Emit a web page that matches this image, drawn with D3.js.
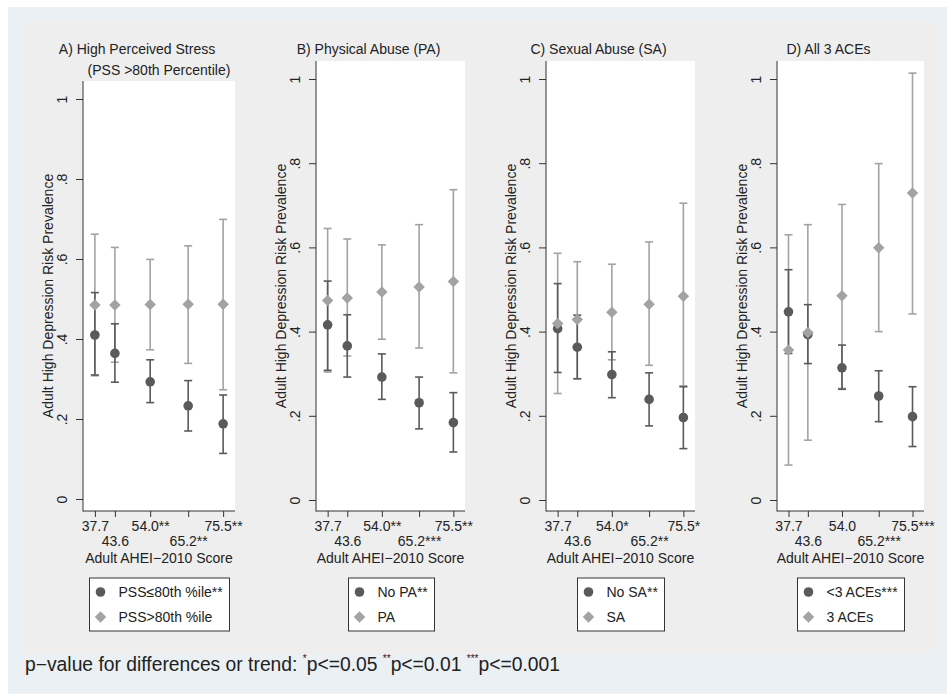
<!DOCTYPE html>
<html>
<head>
<meta charset="utf-8">
<script src="https://cdn.jsdelivr.net/npm/d3@7"></script>
<style>
  body { margin: 0; background: #fff; }
  text { font-family: 'Liberation Sans', Arial, sans-serif; fill: #222; }
</style>
</head>
<body>
<svg id="chart" width="947" height="694"></svg>
<script>
// AHEI-2010 quintile medians (x positions)
const scores = [37.7, 43.6, 54.0, 65.2, 75.5]
const yTicks = [0, 0.2, 0.4, 0.6, 0.8, 1]

// tick labels with significance stars, per panel
const ticksA = ['37.7', '43.6', '54.0**', '65.2**', '75.5**']
const ticksB = ['37.7', '43.6', '54.0**', '65.2***', '75.5**']
const ticksC = ['37.7', '43.6', '54.0*', '65.2**', '75.5*']
const ticksD = ['37.7', '43.6', '54.0', '65.2***', '75.5***']

// A) perceived stress
const aDarkEst = [0.410, 0.364, 0.293, 0.233, 0.188]
const aDarkLo = [0.310, 0.292, 0.241, 0.170, 0.114]
const aDarkHi = [0.516, 0.438, 0.348, 0.296, 0.260]
const aGrayEst = [0.485, 0.485, 0.486, 0.487, 0.487]
const aGrayLo = [0.308, 0.342, 0.373, 0.339, 0.273]
const aGrayHi = [0.662, 0.629, 0.599, 0.633, 0.699]

// B) physical abuse
const bDarkEst = [0.416, 0.366, 0.292, 0.231, 0.184]
const bDarkLo = [0.308, 0.292, 0.239, 0.169, 0.114]
const bDarkHi = [0.520, 0.440, 0.347, 0.292, 0.255]
const bGrayEst = [0.474, 0.480, 0.494, 0.506, 0.519]
const bGrayLo = [0.304, 0.342, 0.382, 0.361, 0.302]
const bGrayHi = [0.645, 0.620, 0.606, 0.654, 0.737]

// C) sexual abuse
const cDarkEst = [0.407, 0.363, 0.298, 0.239, 0.196]
const cDarkLo = [0.303, 0.288, 0.243, 0.176, 0.122]
const cDarkHi = [0.514, 0.439, 0.352, 0.302, 0.269]
const cGrayEst = [0.419, 0.429, 0.446, 0.465, 0.484]
const cGrayLo = [0.253, 0.288, 0.333, 0.320, 0.271]
const cGrayHi = [0.586, 0.566, 0.560, 0.613, 0.705]

// D) all 3 ACEs
const dDarkEst = [0.447, 0.393, 0.314, 0.247, 0.198]
const dDarkLo = [0.348, 0.324, 0.263, 0.186, 0.127]
const dDarkHi = [0.547, 0.464, 0.368, 0.307, 0.269]
const dGrayEst = [0.356, 0.398, 0.485, 0.599, 0.729]
const dGrayLo = [0.083, 0.142, 0.265, 0.400, 0.442]
const dGrayHi = [0.630, 0.654, 0.702, 0.799, 1.014]

const panels = [
    {title: ['A) High Perceived Stress', '(PSS >80th Percentile)'], ticks: ticksA,
        legend: ['PSS\u226480th %ile**', 'PSS>80th %ile'],
        dark: [aDarkEst, aDarkLo, aDarkHi], gray: [aGrayEst, aGrayLo, aGrayHi],
        left: 83, width: 152, top: 81, y0: 499, y1: 99},
    {title: ['B) Physical Abuse (PA)'], ticks: ticksB,
        legend: ['No PA**', 'PA'],
        dark: [bDarkEst, bDarkLo, bDarkHi], gray: [bGrayEst, bGrayLo, bGrayHi],
        left: 316, width: 149, top: 61, y0: 500, y1: 79},
    {title: ['C) Sexual Abuse (SA)'], ticks: ticksC,
        legend: ['No SA**', 'SA'],
        dark: [cDarkEst, cDarkLo, cDarkHi], gray: [cGrayEst, cGrayLo, cGrayHi],
        left: 546, width: 149, top: 61, y0: 500, y1: 79},
    {title: ['D) All 3 ACEs'], ticks: ticksD,
        legend: ['<3 ACEs***', '3 ACEs'],
        dark: [dDarkEst, dDarkLo, dDarkHi], gray: [dGrayEst, dGrayLo, dGrayHi],
        left: 777, width: 147, top: 61, y0: 500, y1: 79}
]

const darkCol = '#5a5a5a'
const grayCol = '#a3a3a3'
const axisCol = '#333'
const bottom = 511

const svg = d3.select('#chart')

// backgrounds
svg.append('rect')
    .attr('x', 8).attr('y', 7)
    .attr('width', 939).attr('height', 687)
    .attr('fill', '#eaf0f3')
svg.append('rect')
    .attr('x', 24).attr('y', 22)
    .attr('width', 916).attr('height', 631)
    .attr('fill', '#eeeeee')

const diamond = d3.symbol(d3.symbolSquare, 66)()

panels.forEach(p => drawPanel(p))

function drawPanel(p){
    const x = d3.scaleLinear().domain([34.2, 79.0]).range([p.left, p.left + p.width])
    const y = d3.scaleLinear().domain([0, 1]).range([p.y0, p.y1])
    const cx = p.left + p.width / 2
    const g = svg.append('g')

    g.append('rect')
        .attr('x', p.left).attr('y', p.top)
        .attr('width', p.width).attr('height', bottom - p.top)
        .attr('fill', '#fff')

    // titles
    g.append('text')
        .attr('x', cx - 22).attr('y', 54)
        .attr('text-anchor', 'middle')
        .attr('font-size', 14)
        .text(p.title[0])
    if (p.title[1]) {
        g.append('text')
            .attr('x', cx).attr('y', 75)
            .attr('text-anchor', 'middle')
            .attr('font-size', 14)
            .text(p.title[1])
    }

    // y axis
    const yAxis = g.append('g')
        .attr('transform', 'translate(' + p.left + ',0)')
        .call(d3.axisLeft(y).tickValues(yTicks).tickSize(7)
            .tickFormat(d => d === 0 || d === 1 ? String(d) : String(d).replace('0.', '.')))
    yAxis.select('.domain').remove()
    yAxis.selectAll('line').attr('stroke', axisCol)
    yAxis.selectAll('text')
        .attr('x', null).attr('dy', null)
        .attr('transform', 'translate(-21,0) rotate(-90)')
        .attr('text-anchor', 'middle')
        .attr('dominant-baseline', 'central')
        .attr('font-size', 14)
        .attr('font-family', null)
        .attr('fill', '#222')
    g.append('line')
        .attr('x1', p.left).attr('x2', p.left)
        .attr('y1', p.top).attr('y2', bottom + 0.5)
        .attr('stroke', axisCol)

    g.append('text')
        .attr('transform', 'translate(' + (p.left - 35) + ',' + ((p.top + bottom) / 2) + ') rotate(-90)')
        .attr('text-anchor', 'middle')
        .attr('dominant-baseline', 'central')
        .attr('font-size', 14)
        .text('Adult High Depression Risk Prevalence')

    // x axis
    const xAxis = g.append('g')
        .attr('transform', 'translate(0,' + bottom + ')')
        .call(d3.axisBottom(x).tickValues(scores).tickSize(6)
            .tickFormat((d, i) => p.ticks[i]))
    xAxis.select('.domain').remove()
    xAxis.selectAll('line').attr('stroke', axisCol)
    xAxis.selectAll('text')
        .attr('dy', null)
        .attr('y', (d, i) => i % 2 ? 35 : 20)
        .attr('font-size', 14)
        .attr('fill', '#222')
    g.append('line')
        .attr('x1', p.left).attr('x2', p.left + p.width)
        .attr('y1', bottom).attr('y2', bottom)
        .attr('stroke', axisCol)

    g.append('text')
        .attr('x', cx).attr('y', 563)
        .attr('text-anchor', 'middle')
        .attr('font-size', 14)
        .text('Adult AHEI\u22122010 Score')

    // error bars: gray first, dark over it
    drawCaps(g, x, y, p.gray, grayCol)
    drawCaps(g, x, y, p.dark, darkCol)

    g.selectAll('circle.pt')
        .data(scores)
        .join('circle')
        .attr('class', 'pt')
        .attr('cx', d => x(d))
        .attr('cy', (d, i) => y(p.dark[0][i]))
        .attr('r', 4.8)
        .attr('fill', darkCol)

    g.selectAll('path.dm')
        .data(scores)
        .join('path')
        .attr('class', 'dm')
        .attr('d', diamond)
        .attr('transform', (d, i) => 'translate(' + x(d) + ',' + y(p.gray[0][i]) + ') rotate(45)')
        .attr('fill', grayCol)

    // legend
    const leg = g.append('g')
    const box = leg.append('rect')
        .attr('y', 578).attr('height', 53)
        .attr('fill', '#fff')
        .attr('stroke', axisCol)
    const labels = leg.selectAll('text')
        .data(p.legend)
        .join('text')
        .attr('y', (d, i) => 597 + i * 25)
        .attr('font-size', 14)
        .text(d => d)
    let tw = 0
    labels.each(function(){ tw = Math.max(tw, this.getComputedTextLength()) })
    const bw = Math.round(tw + 36)
    const bx = Math.round(cx - bw / 2) + 0.5
    box.attr('x', bx).attr('width', bw)
    labels.attr('x', bx + 29)
    leg.append('circle')
        .attr('cx', bx + 11).attr('cy', 592)
        .attr('r', 4.8)
        .attr('fill', darkCol)
    leg.append('path')
        .attr('d', diamond)
        .attr('transform', 'translate(' + (bx + 11) + ',617) rotate(45)')
        .attr('fill', grayCol)
}

function drawCaps(g, x, y, s, col){
    const bars = g.append('g')
        .attr('stroke', col)
        .attr('stroke-width', 1.6)
    scores.forEach((d, i) => {
        const xi = x(d)
        bars.append('line')
            .attr('x1', xi).attr('x2', xi)
            .attr('y1', y(s[1][i])).attr('y2', y(s[2][i]))
        bars.append('line')
            .attr('x1', xi - 4).attr('x2', xi + 4)
            .attr('y1', y(s[1][i])).attr('y2', y(s[1][i]))
        bars.append('line')
            .attr('x1', xi - 4).attr('x2', xi + 4)
            .attr('y1', y(s[2][i])).attr('y2', y(s[2][i]))
    })
}

// footnote with superscript stars
const foot = svg.append('text')
    .attr('x', 25).attr('y', 671)
    .attr('font-size', 19.3)
foot.append('tspan').text('p\u2212value for differences or trend: ')
const notes = [['*', 'p<=0.05 '], ['**', 'p<=0.01 '], ['***', 'p<=0.001']]
notes.forEach(n => {
    foot.append('tspan').attr('font-size', 10).attr('dy', -9).text(n[0])
    foot.append('tspan').attr('dy', 9).text(n[1])
})
</script>
</body>
</html>
